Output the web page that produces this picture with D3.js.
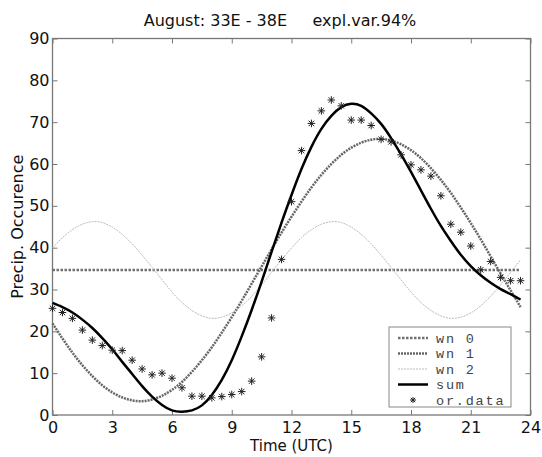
<!DOCTYPE html>
<html>
<head>
<meta charset="utf-8">
<script src="https://cdn.jsdelivr.net/npm/d3@7"></script>
<style>
  body { margin: 0; background: #fff; }
  text { font-family: "DejaVu Sans", Verdana, sans-serif; }
  .legend text { font-family: "Liberation Mono", "DejaVu Sans Mono", monospace; font-size: 13.5px; letter-spacing: 1.8px; fill: #444; }
</style>
</head>
<body>
<svg id="chart" width="542" height="457"></svg>
<script>
// half-hourly time steps (UTC)
const hours = d3.range(0, 24, 0.5)

// observed occurrence (stars)
const or_data = [25.5, 24.5, 23.1, 20.3, 17.9, 16.6, 15.5, 15.4, 13.1, 11.0,
  9.6, 10.0, 8.8, 6.5, 4.5, 4.5, 4.1, 4.4, 4.9, 5.6,
  8.1, 13.9, 23.2, 37.2, 51.0, 63.2, 69.7, 72.7, 75.3, 73.9,
  70.5, 70.5, 69.2, 65.9, 65.3, 62.2, 59.8, 58.6, 57.1, 52.4,
  45.6, 43.7, 40.4, 34.7, 36.7, 32.9, 32.1, 32.1]

// harmonics
const wn0 = hours.map(() => 34.65)
const wn1 = [21.9, 18.3, 14.9, 11.9, 9.3, 7.1, 5.4, 4.2, 3.5, 3.3,
  3.7, 4.6, 6.0, 7.9, 10.3, 13.1, 16.2, 19.7, 23.4, 27.3,
  31.4, 35.5, 39.6, 43.6, 47.4, 51.0, 54.4, 57.4, 60.0, 62.2,
  63.9, 65.1, 65.8, 66.0, 65.6, 64.7, 63.3, 61.4, 59.0, 56.2,
  53.1, 49.6, 45.9, 42.0, 37.9, 33.8, 29.8, 25.8]
const wn2 = [39.9, 42.4, 44.3, 45.6, 46.2, 46.0, 44.9, 43.2, 40.9, 38.2,
  35.3, 32.3, 29.4, 26.9, 25.0, 23.7, 23.1, 23.4, 24.4, 26.1,
  28.4, 31.1, 34.1, 37.1, 39.9, 42.4, 44.3, 45.6, 46.2, 46.0,
  44.9, 43.2, 40.9, 38.2, 35.3, 32.3, 29.4, 26.9, 25.0, 23.7,
  23.1, 23.4, 24.4, 26.1, 28.4, 31.1, 34.1, 37.1]
const sum = [26.8, 25.8, 24.5, 22.8, 20.8, 18.4, 15.7, 12.7, 9.8, 6.9,
  4.4, 2.4, 1.1, 0.8, 1.1, 2.3, 4.8, 8.4, 13.1, 18.8,
  25.1, 31.9, 39.0, 46.0, 52.6, 58.8, 64.1, 68.4, 71.5, 73.6,
  74.4, 73.9, 72.1, 69.6, 66.2, 62.3, 58.1, 53.7, 49.3, 45.2,
  41.6, 38.3, 35.6, 33.4, 31.6, 30.1, 28.9, 27.6]

const x_ticks = d3.range(0, 25, 3)
const y_ticks = d3.range(0, 91, 10)

const series = [
  { name: "wn 0", values: wn0, color: "#707070", width: 2.5, dash: "2.5,1.5" },
  { name: "wn 1", values: wn1, color: "#666", width: 2.5, dash: "2,1" },
  { name: "wn 2", values: wn2, color: "#bbb", width: 1, dash: "2,1" },
  { name: "sum", values: sum, color: "#000", width: 2.5, dash: null }
]

const margin = { left: 52.5, right: 11.5, top: 38.5, bottom: 42 }
const width = 542 - margin.left - margin.right
const height = 457 - margin.top - margin.bottom

const svg = d3.select("#chart")
const g = svg.append("g").attr("transform", `translate(${margin.left},${margin.top})`)

const x = d3.scaleLinear().domain([0, 24]).range([0, width])
const y = d3.scaleLinear().domain([0, 90]).range([height, 0])

// axes, ticks pointing inwards on all four sides
function style_axis(sel) {
  sel.select(".domain").remove()
  sel.selectAll(".tick line").attr("stroke", "#777")
  sel.selectAll("text").attr("fill", "#111").style("font-size", "16px")
}
g.append("g").attr("transform", `translate(0,${height})`)
  .call(d3.axisBottom(x).tickValues(x_ticks).tickSize(-5).tickPadding(7))
  .call(style_axis)
g.append("g")
  .call(d3.axisLeft(y).tickValues(y_ticks).tickSize(-5).tickPadding(3))
  .call(style_axis)
g.append("g")
  .call(d3.axisTop(x).tickValues(x_ticks).tickSize(-5).tickFormat(""))
  .call(style_axis)
g.append("g").attr("transform", `translate(${width},0)`)
  .call(d3.axisRight(y).tickValues(y_ticks).tickSize(-5).tickFormat(""))
  .call(style_axis)

g.append("rect")
  .attr("width", width).attr("height", height)
  .attr("fill", "none").attr("stroke", "#777").attr("stroke-width", 1.3)

// curves
const line = d3.line()
  .x((d, i) => x(hours[i]))
  .y(d => y(d))
  .curve(d3.curveNatural)

g.selectAll("path.curve")
  .data(series).enter()
  .append("path")
  .attr("class", "curve")
  .attr("d", d => line(d.values))
  .attr("fill", "none")
  .attr("stroke", d => d.color)
  .attr("stroke-width", d => d.width)
  .attr("stroke-dasharray", d => d.dash)

// star marker: plus + cross
function star(cx, cy, r) {
  const p = d3.path()
  p.moveTo(cx - r, cy); p.lineTo(cx + r, cy)
  p.moveTo(cx, cy - r); p.lineTo(cx, cy + r)
  const s = r * 0.72
  p.moveTo(cx - s, cy - s); p.lineTo(cx + s, cy + s)
  p.moveTo(cx - s, cy + s); p.lineTo(cx + s, cy - s)
  return p.toString()
}

g.selectAll("path.star")
  .data(or_data).enter()
  .append("path")
  .attr("class", "star")
  .attr("d", (d, i) => star(x(hours[i]), y(d), 3.8))
  .attr("stroke", "#222")
  .attr("stroke-width", 1)
  .attr("fill", "none")

// legend
const legend = svg.append("g").attr("class", "legend")
  .attr("transform", "translate(389,327)")
legend.append("rect")
  .attr("width", 122).attr("height", 80)
  .attr("fill", "#fff").attr("stroke", "#888").attr("stroke-width", 1)

const items = series.concat([{ name: "or.data", star: true }])
items.forEach((d, i) => {
  const cy = 11 + i * 15.5
  if (d.star) {
    legend.append("path").attr("d", star(24, cy, 3))
      .attr("stroke", "#222").attr("stroke-width", 1).attr("fill", "none")
  } else {
    legend.append("line")
      .attr("x1", 9).attr("x2", 39).attr("y1", cy).attr("y2", cy)
      .attr("stroke", d.color).attr("stroke-width", d.width)
      .attr("stroke-dasharray", d.dash)
  }
  legend.append("text")
    .attr("x", 47).attr("y", cy).attr("dy", "0.35em")
    .text(d.name)
})

// titles
svg.append("text")
  .attr("x", 280).attr("y", 26)
  .attr("text-anchor", "middle").style("font-size", "16px").attr("fill", "#111")
  .style("white-space", "pre")
  .text("August: 33E - 38E     expl.var.94%")

svg.append("text")
  .attr("x", margin.left + width / 2).attr("y", 451)
  .attr("text-anchor", "middle").style("font-size", "15px").attr("fill", "#111")
  .text("Time (UTC)")

svg.append("text")
  .attr("transform", `translate(23,${margin.top + height / 2}) rotate(-90)`)
  .attr("text-anchor", "middle").style("font-size", "16px").attr("fill", "#111")
  .text("Precip. Occurence")
</script>
</body>
</html>
